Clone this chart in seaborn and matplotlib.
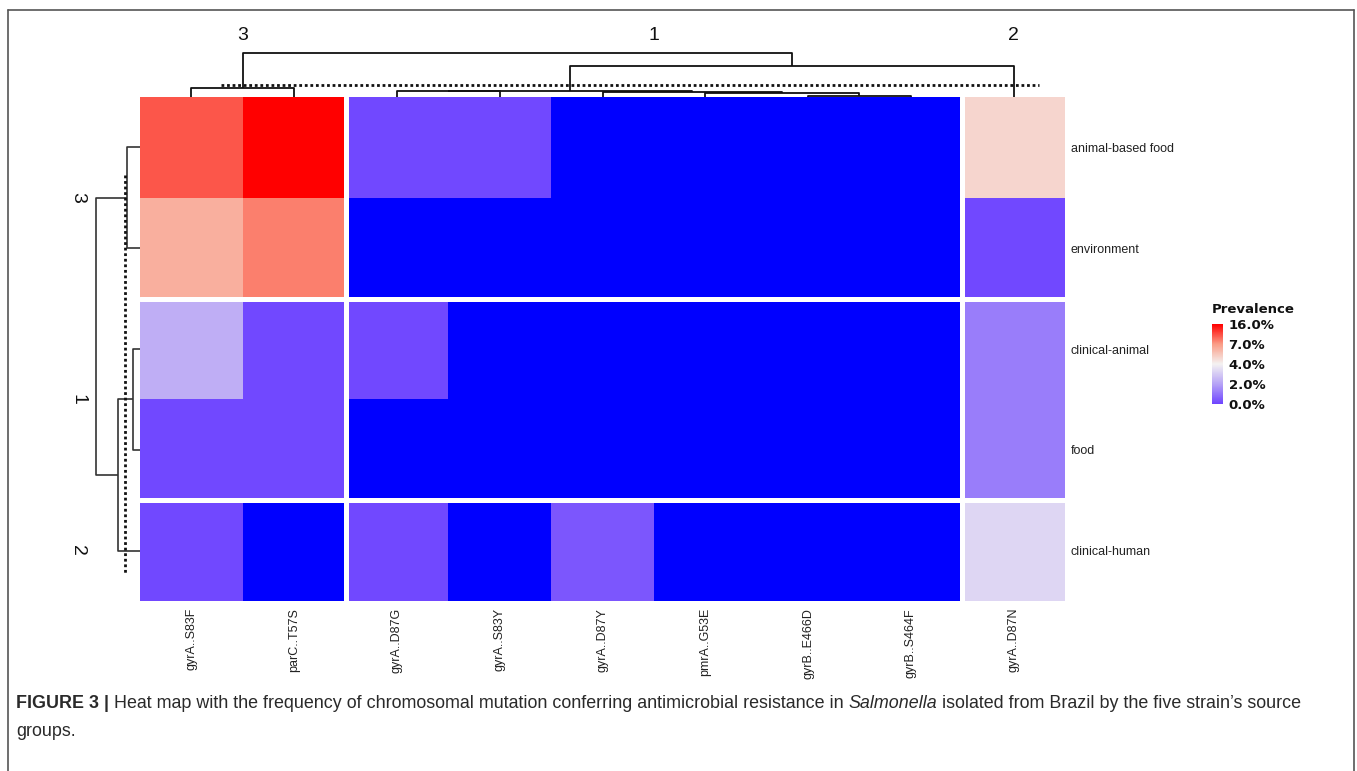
import numpy as np
import pandas as pd
import matplotlib
matplotlib.use("Agg")
import matplotlib.pyplot as plt
import seaborn as sns
from matplotlib.colors import LinearSegmentedColormap, FuncNorm
from matplotlib.lines import Line2D

# ---------------- data ----------------
mutations = ["gyrA..S83F", "parC..T57S", "gyrA..D87G", "gyrA..S83Y", "gyrA..D87Y",
             "pmrA..G53E", "gyrB..E466D", "gyrB..S464F", "gyrA..D87N"]
sources = ["animal-based food", "environment", "clinical-animal", "food", "clinical-human"]

prev_animal_based_food = [11.0, 16.0, 0.1, 0.1, 0.0, 0.0, 0.0, 0.0, 5.0]
prev_environment       = [6.3, 8.6, 0.0, 0.0, 0.0, 0.0, 0.0, 0.0, 0.1]
prev_clinical_animal   = [2.3, 0.1, 0.1, 0.0, 0.0, 0.0, 0.0, 0.0, 1.2]
prev_food              = [0.1, 0.1, 0.0, 0.0, 0.0, 0.0, 0.0, 0.0, 1.2]
prev_clinical_human    = [0.1, 0.0, 0.1, 0.0, 0.4, 0.0, 0.0, 0.0, 3.3]

legend_breaks = [0, 2, 4, 7, 16]
legend_labels = ["0.0%", "2.0%", "4.0%", "7.0%", "16.0%"]
legend_colors = ["#6E44FF", "#B6A3F6", "#F4F2F2", "#FA9C86", "#FF0000"]
zero_color = "#0000FF"

col_clusters = ["3", "3", "1", "1", "1", "1", "1", "1", "2"]
row_clusters = ["3", "3", "1", "1", "2"]

# merges: (left node, right node, height); leaves are 0..n-1 in display order
col_merges = [(6, 7, 1.3), (5, 9, 3.7), (4, 10, 4.7), (2, 3, 6.0), (12, 11, 6.3),
              (0, 1, 9.3), (13, 8, 31.0), (14, 15, 44.0)]
row_merges = [(0, 1, 12.7), (2, 3, 7.3), (6, 4, 21.7), (5, 7, 44.0)]
col_cut = 12.0
row_cut = 15.0

caption_parts = [("FIGURE 3 | ", "bold", "normal"),
                 ("Heat map with the frequency of chromosomal mutation conferring antimicrobial resistance in ", "normal", "normal"),
                 ("Salmonella", "normal", "italic"),
                 (" isolated from Brazil by the five strain\u2019s source", "normal", "normal")]
caption_line2 = "groups."

# ---------------- figure ----------------
sns.set_style("white")
plt.rcParams["font.family"] = ["Liberation Sans", "DejaVu Sans"]

W, H = 1357, 771
fig = plt.figure(figsize=(W / 100, H / 100), dpi=100)


def px_axes(x0, y0, x1, y1):
    return fig.add_axes([x0 / W, 1 - y1 / H, (x1 - x0) / W, (y1 - y0) / H])


df = pd.DataFrame([prev_animal_based_food, prev_environment, prev_clinical_animal,
                   prev_food, prev_clinical_human], index=sources, columns=mutations)

pos_pts = np.linspace(0, 1, len(legend_breaks))
cmap = LinearSegmentedColormap.from_list("prev", list(zip(pos_pts, legend_colors)))
cmap.set_bad((0, 0, 0, 0))


def fwd(x):
    xa = np.ma.filled(np.ma.asarray(x).astype(float), np.nan)
    return np.interp(xa, legend_breaks, pos_pts)


def inv(y):
    ya = np.ma.filled(np.ma.asarray(y).astype(float), np.nan)
    return np.interp(ya, pos_pts, legend_breaks)


norm = FuncNorm((fwd, inv), vmin=legend_breaks[0], vmax=legend_breaks[-1])

ax = px_axes(140, 97, 1065, 601)
cax = px_axes(1212, 324, 1223, 404)

sns.heatmap(df, ax=ax, cmap=cmap, norm=norm, mask=(df == 0), cbar_ax=cax,
            cbar_kws={"ticks": legend_breaks})
ax.set_facecolor(zero_color)

# split gaps
for xs in [2, 8]:
    ax.axvline(xs, color="white", lw=3.6)
for ys in [2, 4]:
    ax.axhline(ys, color="white", lw=3.6)

ax.set_xticks(np.arange(len(mutations)) + 0.5)
ax.set_xticklabels(mutations, rotation=90, fontsize=9, color="#222222")
ax.yaxis.tick_right()
ax.set_yticks(np.arange(len(sources)) + 0.5)
ax.set_yticklabels(sources, rotation=0, fontsize=9, color="#222222")
ax.tick_params(axis="x", length=0, pad=5)
ax.tick_params(axis="y", length=0, pad=4)
ax.set_xlabel("")
ax.set_ylabel("")

# colorbar
cb = ax.collections[0].colorbar
cb.outline.set_visible(False)
cax.set_yticklabels(legend_labels, fontsize=9.5, fontweight="bold", family="DejaVu Sans",
                    color="#111111")
cax.tick_params(axis="y", which="both", direction="in", color="white", length=3,
                width=1, left=True, right=True, pad=4)
cax.set_title("Prevalence", fontsize=9.5, fontweight="bold", family="DejaVu Sans",
              loc="left", pad=8, color="#111111")


def draw_dendro(dax, merges, n, orient):
    pos = {i: i + 0.5 for i in range(n)}
    hgt = {i: 0.0 for i in range(n)}
    for k, (a, b, h) in enumerate(merges):
        nid = n + k
        pa, pb = pos[a], pos[b]
        pos[nid] = (pa + pb) / 2
        hgt[nid] = h
        xs = [pa, pa, pb, pb]
        ys = [hgt[a], h, h, hgt[b]]
        if orient == "top":
            dax.plot(xs, ys, color="#111111", lw=1.3, clip_on=False,
                     solid_capstyle="butt")
        else:
            dax.plot(ys, xs, color="#333333", lw=1.2, clip_on=False,
                     solid_capstyle="butt")
    return pos


# top dendrogram
tax = px_axes(140, 20, 1065, 97)
draw_dendro(tax, col_merges, len(mutations), "top")
tax.set_xlim(0, len(mutations))
tax.set_ylim(0, 77)
tax.axis("off")
tax.plot([0.79, 8.75], [col_cut, col_cut], color="#111111", lw=2, ls=(0, (1, 1)))
cc = pd.Series(np.arange(len(mutations)) + 0.5).groupby(col_clusters).mean()
for lab, xc in cc.items():
    tax.text(xc, 61, lab, ha="center", va="center", fontsize=14, color="#111111")

# left dendrogram
lax = px_axes(50, 97, 140, 601)
draw_dendro(lax, row_merges, len(sources), "left")
lax.set_xlim(90, 0)
lax.set_ylim(len(sources), 0)
lax.axis("off")
lax.plot([row_cut, row_cut], [0.77, 4.72], color="#111111", lw=2, ls=(0, (1, 1)))
rc = pd.Series(np.arange(len(sources)) + 0.5).groupby(row_clusters).mean()
for lab, yc in rc.items():
    lax.text(62, yc, lab, ha="center", va="center", fontsize=14, rotation=-90,
             color="#111111")

# frame
fc = "#555555"
fig.add_artist(Line2D([8 / W, 8 / W], [0, 1 - 10 / H], color=fc, lw=1.2))
fig.add_artist(Line2D([8 / W, 1354 / W], [1 - 10 / H, 1 - 10 / H], color=fc, lw=1.2))
fig.add_artist(Line2D([1354 / W, 1354 / W], [0, 1 - 10 / H], color=fc, lw=1.2))

# caption
renderer = fig.canvas.get_renderer()
x = 16
cap_family = ["Liberation Sans", "DejaVu Sans"]
for txt, wt, st in caption_parts:
    t = fig.text(x / W, 1 - 703 / H, txt, fontsize=12.85, fontweight=wt, fontstyle=st,
                 family=cap_family, va="center", ha="left", color="#2a2a2a")
    bb = t.get_window_extent(renderer)
    x += bb.width
fig.text(16 / W, 1 - 731 / H, caption_line2, fontsize=12.85, family=cap_family,
         va="center", ha="left", color="#2a2a2a")

fig.savefig("out.png", dpi=100)
